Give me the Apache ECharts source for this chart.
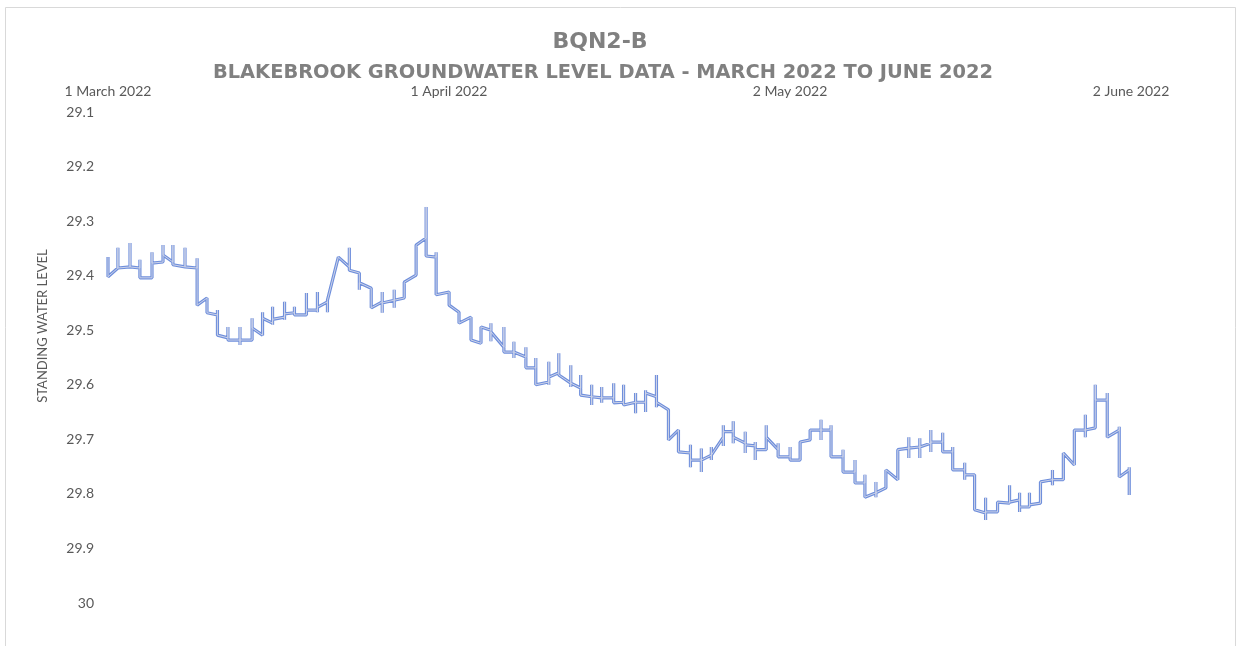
<!DOCTYPE html>
<html>
<head>
<meta charset="utf-8">
<script src="https://cdn.jsdelivr.net/npm/echarts@6/dist/echarts.min.js"></script>
<style>
html,body{margin:0;padding:0;background:#fff;}
#chart{width:1259px;height:646px;}
</style>
</head>
<body>
<div id="chart"></div>
<script>
const chartTitle = 'BQN2-B';
const chartSubtitle = 'BLAKEBROOK GROUNDWATER LEVEL DATA - MARCH 2022 TO JUNE 2022';
const yAxisTitle = 'STANDING WATER LEVEL';
const xTickLabels = ['1 March 2022', '1 April 2022', '2 May 2022', '2 June 2022'];
const xTickDays = [0, 31, 62, 93];

// days since 1 March 2022
const days = [
0,0,0.9,0.9,0.9,2.0,2.0,2.0,2.9,2.9,2.9,4.0,4.0,4.0,5.0,5.0,5.0,5.9,5.9,5.9,
7.0,7.0,7.0,8.1,8.1,8.1,9.0,9.0,9.95,9.95,9.95,10.9,10.9,10.9,12.0,12.0,12.0,12.0,
13.1,13.1,13.1,14.05,14.05,14.05,14.96,14.96,14.96,14.96,16.05,16.05,16.05,16.05,
16.95,16.95,16.95,18.04,18.04,18.04,19.04,19.04,19.04,19.04,19.95,19.95,19.95,
20.94,21.94,21.94,21.94,22.85,22.85,22.85,23.93,23.93,24.93,24.93,24.93,24.93,
26.02,26.02,26.02,26.02,26.93,26.93,28.01,28.01,28.92,28.92,28.92,29.83,29.83,29.83,
31.01,31.01,31.91,31.91,33.0,33.0,33.91,33.91,34.81,34.81,34.81,34.81,
35.99,35.99,35.99,36.9,36.9,36.9,36.9,37.99,37.99,37.99,38.89,38.89,38.89,
40.07,40.07,40.07,40.07,40.98,40.98,40.98,42.07,42.07,42.07,42.07,42.97,42.97,42.97,
43.97,43.97,43.97,43.97,44.88,44.88,44.88,44.88,45.97,45.97,45.97,46.87,46.87,46.87,
47.96,47.96,47.96,47.96,48.87,48.87,48.87,48.87,49.86,49.86,49.86,49.86,
50.95,50.95,51.86,51.86,52.95,52.95,52.95,52.95,53.94,53.94,53.94,53.94,
54.85,54.85,54.85,54.85,55.94,55.94,55.94,55.94,56.84,56.84,56.84,56.84,
57.93,57.93,57.93,57.93,58.84,58.84,58.84,58.84,59.84,59.84,59.84,
60.92,60.92,60.92,62.01,62.01,62.01,62.92,62.92,63.83,63.83,
64.82,64.82,64.82,64.82,65.73,65.73,65.73,66.82,66.82,66.82,67.91,67.91,67.91,
68.81,68.81,68.81,69.81,69.81,69.81,69.81,70.72,70.72,71.80,71.80,
72.80,72.80,72.80,72.80,73.80,73.80,73.80,73.80,74.80,74.80,74.80,74.80,
75.88,75.88,75.88,76.79,76.79,76.79,77.88,77.88,77.88,77.88,78.78,78.78,
79.78,79.78,79.78,79.78,80.87,80.87,81.96,81.96,81.96,82.87,82.87,82.87,82.87,
83.77,83.77,83.77,84.77,84.77,85.86,85.86,85.86,85.86,86.85,86.85,87.85,87.85,
88.85,88.85,88.85,88.85,89.75,89.75,89.75,90.84,90.84,90.84,91.93,91.93,91.93,
92.84,92.84,92.84
];

// standing water level (m)
const levels = [
29.366,29.402,29.386,29.349,29.386,29.384,29.340,29.384,29.386,29.371,29.404,29.404,29.357,29.377,29.375,29.344,29.362,29.375,29.344,29.380,
29.384,29.349,29.384,29.386,29.368,29.454,29.441,29.468,29.472,29.463,29.509,29.514,29.494,29.518,29.518,29.494,29.527,29.518,
29.518,29.478,29.496,29.509,29.467,29.478,29.487,29.457,29.490,29.480,29.476,29.448,29.481,29.470,
29.468,29.457,29.472,29.472,29.432,29.463,29.463,29.430,29.467,29.458,29.448,29.467,29.445,
29.366,29.384,29.349,29.390,29.395,29.426,29.413,29.423,29.459,29.448,29.430,29.468,29.450,
29.445,29.426,29.459,29.445,29.441,29.412,29.399,29.344,29.331,29.274,29.364,29.366,29.357,29.435,
29.430,29.454,29.467,29.487,29.476,29.518,29.524,29.494,29.500,29.487,29.520,29.503,
29.531,29.494,29.540,29.540,29.521,29.551,29.540,29.549,29.531,29.569,29.569,29.551,29.600,
29.595,29.558,29.600,29.586,29.578,29.542,29.582,29.597,29.564,29.604,29.597,29.606,29.582,29.619,
29.622,29.600,29.637,29.622,29.624,29.604,29.633,29.624,29.624,29.597,29.633,29.632,29.600,29.637,
29.632,29.615,29.652,29.632,29.632,29.610,29.650,29.615,29.622,29.582,29.641,29.632,
29.646,29.701,29.683,29.723,29.725,29.710,29.751,29.738,29.738,29.717,29.760,29.738,
29.729,29.714,29.738,29.729,29.696,29.674,29.712,29.686,29.686,29.667,29.707,29.696,
29.707,29.686,29.725,29.710,29.712,29.705,29.738,29.719,29.719,29.674,29.696,
29.719,29.707,29.732,29.732,29.714,29.738,29.738,29.705,29.701,29.683,
29.683,29.664,29.701,29.683,29.683,29.674,29.732,29.732,29.719,29.760,29.760,29.738,29.780,
29.780,29.765,29.806,29.798,29.778,29.806,29.798,29.789,29.756,29.774,29.719,
29.716,29.696,29.734,29.716,29.714,29.698,29.734,29.714,29.707,29.683,29.723,29.705,
29.705,29.688,29.723,29.723,29.714,29.756,29.756,29.743,29.774,29.765,29.765,29.829,
29.835,29.807,29.848,29.833,29.833,29.815,29.817,29.784,29.815,29.811,29.798,29.833,29.824,
29.824,29.798,29.820,29.817,29.778,29.774,29.756,29.784,29.774,29.774,29.725,29.747,29.683,
29.683,29.655,29.696,29.683,29.679,29.600,29.628,29.628,29.615,29.696,29.683,29.677,29.769,
29.756,29.751,29.802
];

const seriesData = days.map((d, i) => [d, levels[i]]);

const chart = echarts.init(document.getElementById('chart'), null, {renderer: 'canvas'});
const labelFont = 'Lato, "Open Sans", sans-serif';
const titleFont = '"DejaVu Sans", sans-serif';

chart.setOption({
  animation: false,
  backgroundColor: '#ffffff',
  title: [
    {
      text: chartTitle,
      left: 600, top: 31, textAlign: 'center', padding: 0,
      textStyle: {fontFamily: titleFont, fontWeight: 'bold', fontSize: 22, color: '#808080'}
    },
    {
      text: chartSubtitle,
      left: 603, top: 63, textAlign: 'center', padding: 0,
      textStyle: {fontFamily: titleFont, fontWeight: 'bold', fontSize: 19.4, color: '#808080'}
    }
  ],
  graphic: [
    {
      type: 'rect', silent: true, z: -10,
      shape: {x: 5.5, y: 7.5, width: 1230, height: 660},
      style: {fill: 'none', stroke: '#d9d9d9', lineWidth: 1}
    },
    {
      type: 'text', silent: true,
      x: 43, y: 326, rotation: Math.PI / 2,
      style: {text: yAxisTitle, fontFamily: labelFont, fontSize: 13, fill: '#595959', align: 'center', verticalAlign: 'middle'}
    }
  ],
  grid: {left: 108, right: 95, top: 112, bottom: 43, containLabel: false},
  xAxis: {
    type: 'value', position: 'top', min: 0, max: 96, interval: 31,
    axisLine: {show: false}, axisTick: {show: false}, splitLine: {show: false},
    axisLabel: {
      fontFamily: labelFont, fontSize: 14, color: '#595959', margin: 14, showMaxLabel: false,
      formatter: function (v) {
        const i = xTickDays.indexOf(Math.round(v));
        return (i >= 0 && Math.abs(v - xTickDays[i]) < 1e-6) ? xTickLabels[i] : '';
      }
    }
  },
  yAxis: {
    type: 'value', inverse: true, min: 29.1, max: 30, interval: 0.1,
    axisLine: {show: false}, axisTick: {show: false}, splitLine: {show: false},
    axisLabel: {
      fontFamily: labelFont, fontSize: 14, color: '#595959', margin: 14,
      formatter: function (v) { return String(+v.toFixed(1)); }
    }
  },
  series: [
    {
      type: 'line', data: seriesData, showSymbol: false, symbol: 'none',
      lineStyle: {color: '#6f8fdc', width: 3.2}, z: 2
    },
    {
      type: 'line', data: seriesData, showSymbol: false, symbol: 'none',
      lineStyle: {color: '#cdd3e8', width: 1}, z: 3, tooltip: {show: false}
    }
  ]
});
</script>
</body>
</html>
